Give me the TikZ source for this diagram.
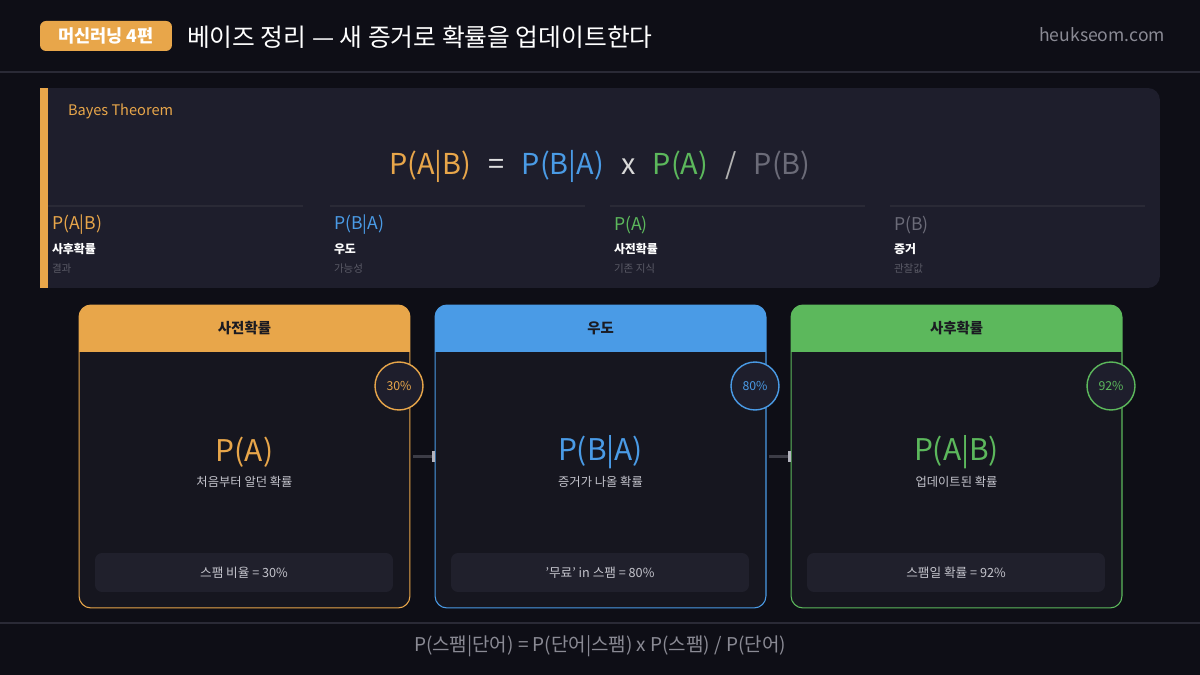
\documentclass[tikz,border=0pt]{standalone}
\usepackage{fontspec}
\setmainfont{Noto Sans CJK KR}
\usetikzlibrary{arrows.meta}

\definecolor{bg}{HTML}{0E0E16}
\definecolor{panel}{HTML}{1E1E2C}
\definecolor{cardbg}{HTML}{16161F}
\definecolor{boxbg}{HTML}{20202C}
\definecolor{rule}{HTML}{2A2A36}
\definecolor{orange}{HTML}{E8A64A}
\definecolor{blue}{HTML}{4A9BE6}
\definecolor{green}{HTML}{5CB85C}
\definecolor{dim}{HTML}{6B6B78}
\definecolor{subtext}{HTML}{C4C4CC}
\definecolor{desc}{HTML}{5A5A66}
\definecolor{site}{HTML}{8A8A94}
\definecolor{headtext}{HTML}{1B1B22}
\definecolor{linkgray}{HTML}{3C3C46}
\definecolor{tipgray}{HTML}{B4B4BE}

\newcommand\fsz[1]{\fontsize{#1}{#1}\selectfont}

\tikzset{
  card/.style={rectangle,fill=cardbg,rounded corners=6.8pt,
    minimum width=6.62cm,minimum height=6.06cm},
  pct/.style={circle,fill=panel,draw=#1,line width=0.8pt,minimum size=0.96cm,
    text=#1,font=\fsz{7}},
  notebox/.style={rectangle,fill=boxbg,rounded corners=4pt,
    minimum width=5.96cm,minimum height=0.78cm,text=subtext,font=\fsz{7.2}},
  link/.style={linkgray,line width=1.2pt,shorten <=1.7pt,
    -{Rectangle[length=1.7pt,width=6.8pt,color=tipgray]}}
}

\begin{document}
\begin{tikzpicture}[x=0.02cm,y=-0.02cm,every node/.append style={inner sep=0pt,outer sep=0pt}]
  \fill[bg] (0,0) rectangle (1200,675);
  \useasboundingbox (0,0) rectangle (1200,675);

  % header
  \node[fill=orange,rounded corners=3.4pt,minimum width=2.64cm,minimum height=0.6cm,
    text=white,font=\fsz{10}\bfseries] (Badge) at (106,36) {머신러닝 4편};
  \node[anchor=west,text=white,font=\fsz{14.1}] (Title) at (187,37)
    {베이즈 정리 — 새 증거로 확률을 업데이트한다};
  \node[anchor=east,text=site,font=\fsz{10}] (Site) at (1165,35) {heukseom.com};
  \draw[rule,line width=0.6pt] (0,72) -- (1200,72);

  % formula panel
  \node[fill=panel,rounded corners=6.8pt,minimum width=22.4cm,minimum height=4cm] (Panel) at (600,188) {};
  \fill[panel] (40,88) rectangle (70,288);
  \fill[orange] (40,88) rectangle (48,288);
  \node[anchor=west,text=orange,font=\fsz{8.3}] (Tag) at (68,111) {Bayes Theorem};
  \node[font=\fsz{16.4}] (Formula) at (600,166)
    {\textcolor{orange}{P(A|B)}\hspace{0.6em}\textcolor{white!88!black}{=}\hspace{0.6em}\textcolor{blue}{P(B|A)}\hspace{0.6em}\textcolor{white!85!black}{x}\hspace{0.6em}\textcolor{green}{P(A)}\hspace{0.6em}\textcolor{white!70!black}{/}\hspace{0.6em}\textcolor{dim}{P(B)}};

  \foreach \i/\lx/\sym/\col/\name/\what in {1/48/P(A|B)/orange/사후확률/결과,
      2/330/P(B|A)/blue/우도/가능성, 3/610/P(A)/green/사전확률/기존 지식,
      4/890/P(B)/dim/증거/관찰값} {
    \draw[rule,line width=0.6pt] (\lx,206) -- ++(255,0);
    \node[anchor=west,text=\col,font=\fsz{10}] (Sym\i) at (\lx+4,225) {\sym};
    \node[anchor=west,text=white,font=\fsz{6.8}\bfseries] (Name\i) at (\lx+4,249) {\name};
    \node[anchor=west,text=desc,font=\fsz{6}] (Desc\i) at (\lx+4,269) {\what};
  }

  % cards
  \foreach \n/\cx/\col/\head/\sym/\sub/\val/\note in {
      Prior/244.5/orange/사전확률/P(A)/처음부터 알던 확률/30\%/스팸 비율 = 30\%,
      Likelihood/600.5/blue/우도/P(B|A)/증거가 나올 확률/80\%/'무료' in 스팸 = 80\%,
      Posterior/956.5/green/사후확률/P(A|B)/업데이트된 확률/92\%/스팸일 확률 = 92\%} {
    \node[card] (\n) at (\cx,456.5) {};
    \begin{scope}
      \clip[rounded corners=6.8pt] (\n.north west) rectangle (\n.south east);
      \fill[\col] (\n.north west) rectangle (\n.east |- 0,352);
    \end{scope}
    \draw[\col,line width=0.6pt,rounded corners=6.8pt] (\n.north west) rectangle (\n.south east);
    \node[text=headtext,font=\fsz{8.2}\bfseries] (\n Head) at (\cx,328) {\head};
    \node[pct=\col] (\n Pct) at (\cx+154.5,386) {\val};
    \node[text=\col,font=\fsz{17}] (\n Sym) at (\cx,452) {\sym};
    \node[text=subtext,font=\fsz{7}] (\n Sub) at (\cx,482) {\sub};
    \node[notebox] (\n Note) at (\cx-0.5,572.5) {\note};
  }

  \draw[link] (Prior) -- (Likelihood);
  \draw[link] (Likelihood) -- (Posterior);

  % footer
  \draw[rule,line width=0.6pt] (0,623) -- (1200,623);
  \node[text=site,font=\fsz{10.8}] (Footer) at (600,646)
    {P(스팸|단어) = P(단어|스팸) x P(스팸) / P(단어)};
\end{tikzpicture}
\end{document}
